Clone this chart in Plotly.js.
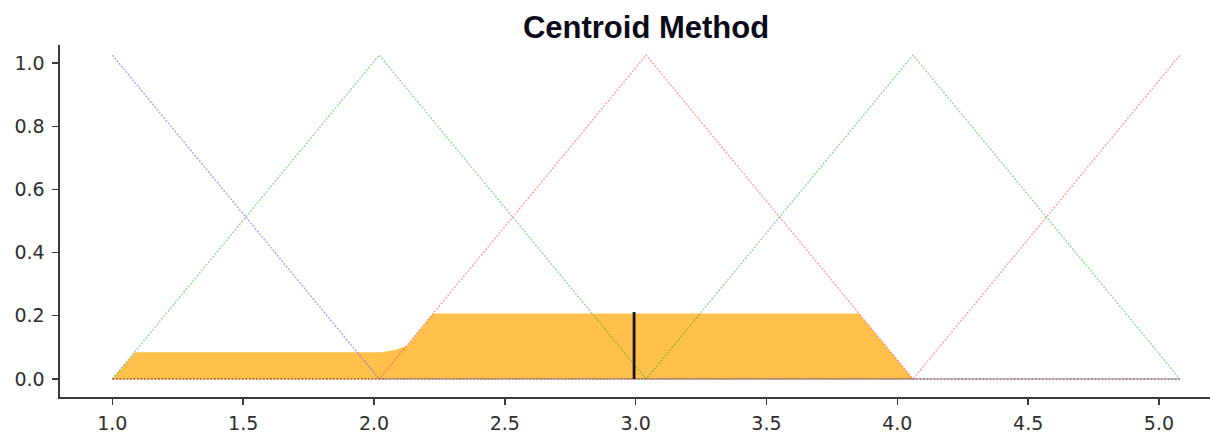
<!DOCTYPE html>
<html>
<head>
<meta charset="utf-8">
<script src="https://cdn.plot.ly/plotly-3.0.1.min.js"></script>
<style>html,body{margin:0;padding:0;background:#fff;}</style>
</head>
<body>
<div id="chart" style="width:1210px;height:435px;"></div>
<script>
// Membership functions (x in axis units, y membership)
const blueX = [1.0, 2.02, 5.08];
const blueY = [1.025, 0, 0];
const green1X = [1.0, 2.02, 3.04, 5.08];
const green1Y = [0, 1.025, 0, 0];
const red1X = [1.0, 2.02, 3.04, 4.06, 5.08];
const red1Y = [0, 0, 1.025, 0, 0];
const green2X = [1.0, 3.04, 4.06, 5.08];
const green2Y = [0, 0, 1.025, 0];
const red2X = [1.0, 4.06, 5.08];
const red2Y = [0, 0, 1.025];

// Aggregated output (filled area)
const aggX = [1.0, 1.087, 2.03, 2.08, 2.127, 2.226, 3.852, 4.06];
const aggY = [0, 0.085, 0.085, 0.092, 0.105, 0.207, 0.207, 0];

// Centroid
const centroidX = [2.994, 2.994];
const centroidY = [0, 0.212];

const xTicks = [1.0, 1.5, 2.0, 2.5, 3.0, 3.5, 4.0, 4.5, 5.0];
const yTicks = [0.0, 0.2, 0.4, 0.6, 0.8, 1.0];

function mfLine(x, y, color) {
  return {x: x, y: y, type: 'scatter', mode: 'lines', hoverinfo: 'skip',
    line: {color: color, width: 1.4, dash: '2px,1.5px'}, showlegend: false};
}

const traces = [
  {x: aggX, y: aggY, type: 'scatter', mode: 'lines', fill: 'tozeroy',
   fillcolor: 'rgba(255,165,0,0.7)', line: {width: 0, color: 'rgba(255,165,0,0)'}, showlegend: false},
  mfLine(blueX, blueY, 'rgba(70,70,255,0.5)'),
  mfLine(green1X, green1Y, 'rgba(0,160,0,0.42)'),
  mfLine(red1X, red1Y, 'rgba(255,40,40,0.45)'),
  mfLine(green2X, green2Y, 'rgba(0,160,0,0.42)'),
  mfLine(red2X, red2Y, 'rgba(255,40,40,0.45)'),
  {x: centroidX, y: centroidY, type: 'scatter', mode: 'lines',
   line: {color: 'rgba(0,0,0,0.9)', width: 2.8}, showlegend: false}
];

const axisCommon = {
  showgrid: false, zeroline: false, showline: true,
  linecolor: '#3a3a3a', linewidth: 1.6,
  ticks: 'outside', ticklen: 6, tickwidth: 1.4, tickcolor: '#3a3a3a',
  tickfont: {family: 'DejaVu Sans', size: 19, color: '#2e2e2e'}
};

const layout = {
  width: 1210, height: 435,
  margin: {l: 60, r: 0, t: 45, b: 38, pad: 0},
  paper_bgcolor: '#ffffff', plot_bgcolor: '#ffffff',
  title: {text: 'Centroid Method', x: 0.5096, xref: 'paper', xanchor: 'center',
          y: 0.937, yref: 'container', yanchor: 'middle',
          font: {family: 'Liberation Sans', size: 31, color: '#0a0a1a', weight: 'bold'}},
  xaxis: Object.assign({}, axisCommon, {
    range: [0.8, 5.195], tickvals: xTicks,
    ticktext: xTicks.map(v => v.toFixed(1)), ticklabelstandoff: 3
  }),
  yaxis: Object.assign({}, axisCommon, {
    range: [-0.057, 1.057], tickvals: yTicks,
    ticktext: yTicks.map(v => v.toFixed(1)), ticklabelstandoff: 4
  })
};

Plotly.newPlot('chart', traces, layout, {displayModeBar: false, staticPlot: true});
</script>
</body>
</html>
